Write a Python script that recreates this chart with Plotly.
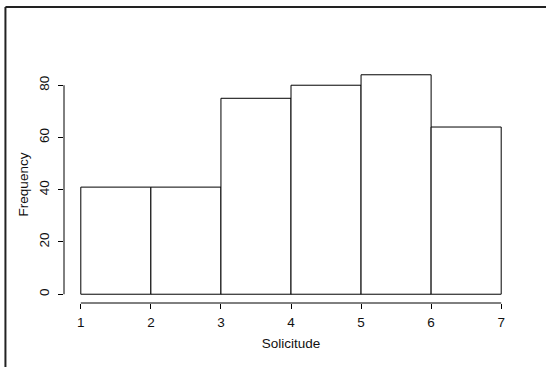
import plotly.graph_objects as go

bin_left = [1, 2, 3, 4, 5, 6]
counts = [41, 41, 75, 80, 84, 64]
x_ticks = [1, 2, 3, 4, 5, 6, 7]
y_ticks = [0, 20, 40, 60, 80]
x_label = "Solicitude"
y_label = "Frequency"

centers = [b + 0.5 for b in bin_left]

fig = go.Figure(go.Bar(
    x=centers, y=counts, width=1,
    marker=dict(color="white", line=dict(color="black", width=1)),
))

fam = "Liberation Sans, Arial, sans-serif"
tfont = dict(family=fam, size=13.5, color="#111")

fig.update_layout(
    width=546, height=367,
    margin=dict(l=64, r=28, t=66, b=64),
    paper_bgcolor="white", plot_bgcolor="white",
    showlegend=False, font=tfont,
    xaxis=dict(range=[0.76, 7.24], tickvals=x_ticks, ticks="outside", ticklen=5,
               tickcolor="black", showgrid=False, zeroline=False, showline=False,
               ticklabelstandoff=2, tickfont=tfont,
               title=dict(text=x_label, standoff=9, font=tfont)),
    yaxis=dict(range=[-3.36, 87.36], tickvals=y_ticks, ticks="outside", ticklen=5,
               tickcolor="black", showgrid=False, zeroline=False, showline=False,
               tickangle=-90, ticklabelstandoff=4, tickfont=tfont,
               title=dict(text=y_label, standoff=4, font=tfont)),
    shapes=[
        dict(type="line", xref="x", yref="paper", x0=x_ticks[0], x1=x_ticks[-1], y0=0, y1=0,
             line=dict(color="black", width=1)),
        dict(type="line", xref="paper", yref="y", x0=0, x1=0, y0=y_ticks[0], y1=y_ticks[-1],
             line=dict(color="black", width=1)),
        dict(type="line", xref="paper", yref="paper", x0=-0.129, x1=1.2, y0=1.249, y1=1.249,
             line=dict(color="#222", width=2)),
        dict(type="line", xref="paper", yref="paper", x0=-0.129, x1=-0.129, y0=1.249, y1=-0.4,
             line=dict(color="#222", width=2)),
    ],
)

fig.write_html("out.html")
